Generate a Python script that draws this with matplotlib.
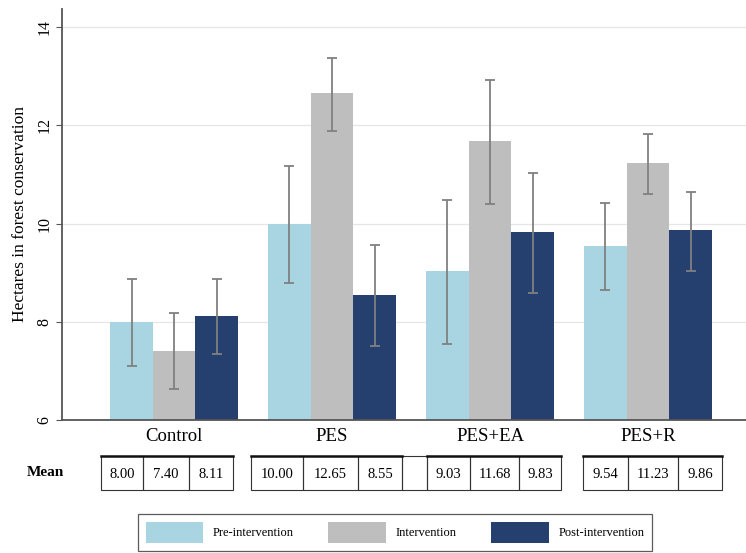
import numpy as np
import matplotlib
matplotlib.use('Agg')
import matplotlib.pyplot as plt
from matplotlib.patches import Rectangle

plt.rcParams['font.family'] = ['Liberation Serif', 'DejaVu Serif']

groups = ['Control', 'PES', 'PES+EA', 'PES+R']
series = ['Pre-intervention', 'Intervention', 'Post-intervention']
colors = ['#a9d5e3', '#bebebe', '#253f6e']

pre_mean = [8.00, 10.00, 9.03, 9.54]
int_mean = [7.40, 12.65, 11.68, 11.23]
post_mean = [8.11, 8.55, 9.83, 9.86]

pre_low = [7.10, 8.80, 7.54, 8.64]
pre_high = [8.88, 11.17, 10.48, 10.42]
int_low = [6.63, 11.88, 10.40, 10.60]
int_high = [8.17, 13.38, 12.92, 11.82]
post_low = [7.34, 7.50, 8.58, 9.04]
post_high = [8.88, 9.57, 11.03, 10.64]

means = [pre_mean, int_mean, post_mean]
lows = [pre_low, int_low, post_low]
highs = [pre_high, int_high, post_high]

W, H = 746, 553
fig = plt.figure(figsize=(W / 100, H / 100), dpi=100)

# main bar chart
ax = fig.add_axes([62 / W, (H - 420) / H, (W - 62) / W, (420 - 9) / H])
x = np.arange(len(groups))
width = 0.27
for i in range(3):
    m = np.array(means[i])
    err = [m - np.array(lows[i]), np.array(highs[i]) - m]
    ax.bar(x + (i - 1) * width, m, width, color=colors[i], label=series[i], zorder=2)
    ax.errorbar(x + (i - 1) * width, m, yerr=err, fmt='none', ecolor='#808080',
                elinewidth=1.3, capsize=3.5, capthick=1.3, zorder=3)

ax.set_ylim(6, 14.37)
ax.set_xlim(-0.71, 3.62)
ax.set_yticks([6, 8, 10, 12, 14])
ax.set_yticklabels(['6', '8', '10', '12', '14'], rotation=90, va='center', fontsize=11.5)
ax.set_xticks(x)
ax.set_xticklabels(groups, fontsize=13.5)
ax.tick_params(axis='x', length=0, pad=6)
ax.tick_params(axis='y', length=4, color='#555555', pad=3)
ax.grid(axis='y', color='#e6e6e6', linewidth=0.9, zorder=0)
ax.set_axisbelow(True)
ax.set_ylabel('Hectares in forest conservation', fontsize=12.5, labelpad=6)
for s in ['top', 'right']:
    ax.spines[s].set_visible(False)
for s in ['left', 'bottom']:
    ax.spines[s].set_color('#555555')
    ax.spines[s].set_linewidth(1.3)

# table of means below the chart, drawn in pixel coordinates
tab = fig.add_axes([0, 0, 1, 1], zorder=-1)
tab.set_xlim(0, W)
tab.set_ylim(H, 0)
tab.axis('off')

cell_edges = [
    [101, 143, 189, 233],
    [251, 303, 358, 402],
    [427, 470, 519, 561],
    [583, 628, 678, 722],
]
y_top, y_bot = 456, 490
tab.text(45, 473, 'Mean', fontsize=11, fontweight='bold', ha='center', va='center')
for g, edges in enumerate(cell_edges):
    for c in range(3):
        tab.add_patch(Rectangle((edges[c], y_top), edges[c + 1] - edges[c], y_bot - y_top,
                                fill=False, edgecolor='#333333', linewidth=0.8))
        tab.text((edges[c] + edges[c + 1]) / 2, (y_top + y_bot) / 2 + 1,
                 '%.2f' % means[c][g], fontsize=10.5, ha='center', va='center')
    tab.plot([edges[0], edges[-1]], [y_top, y_top], color='#111111', linewidth=1.8)
# blank cell between PES and PES+EA
tab.add_patch(Rectangle((402, y_top), 25, y_bot - y_top, fill=False,
                        edgecolor='#333333', linewidth=0.8))

handles, labels = ax.get_legend_handles_labels()
leg = fig.legend(handles, labels, ncol=3, loc='upper left',
                 bbox_to_anchor=(138 / W, (H - 514) / H, (652 - 138) / W, 0),
                 mode='expand', fontsize=9, frameon=True, fancybox=False,
                 edgecolor='#333333', handlelength=4.6, handleheight=2.3,
                 handletextpad=0.8, borderpad=0.6, borderaxespad=0)
leg.get_frame().set_linewidth(0.9)

fig.savefig('out.png', dpi=100)
